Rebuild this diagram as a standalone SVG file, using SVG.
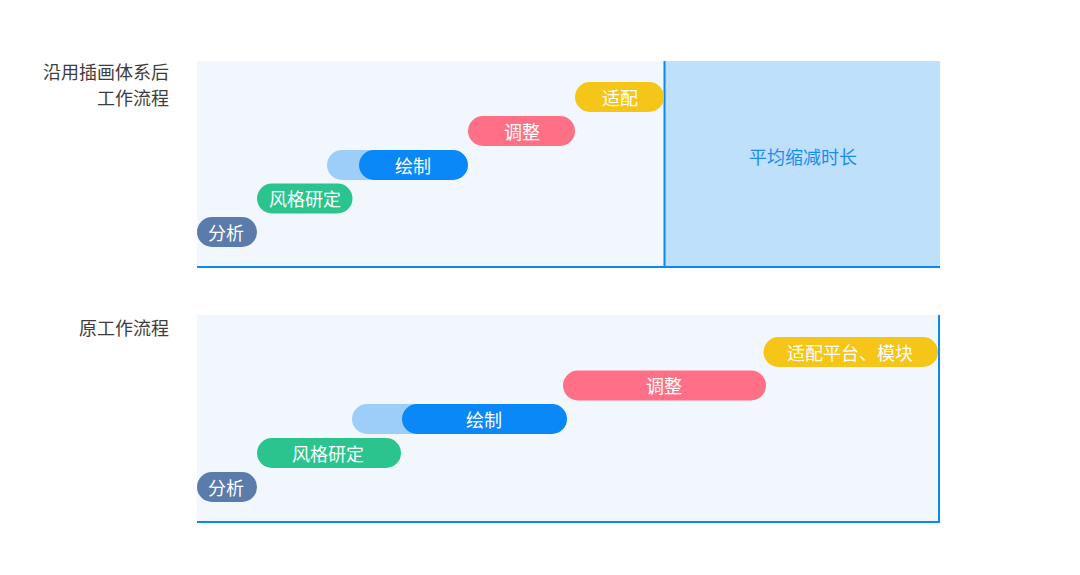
<svg xmlns="http://www.w3.org/2000/svg" width="1080" height="575" viewBox="0 0 1080 575">
<style>
text{font-family:"Noto Sans CJK SC","Noto Sans",sans-serif;font-size:18px;dominant-baseline:central}
.lbl{fill:#3D3D3D;text-anchor:end}
.pt{fill:#fff;text-anchor:middle}
.bg{fill:#F2F7FE}
.ln{stroke:#0A88F8;stroke-width:2;fill:none}
</style>
<rect width="1080" height="575" fill="#fff"/>
<g id="labels">
<text class="lbl" x="169" y="71">沿用插画体系后</text>
<text class="lbl" x="169" y="97">工作流程</text>
<text class="lbl" x="169" y="327">原工作流程</text>
</g>
<g id="panel-top">
<rect class="bg" x="197" y="61" width="468" height="206"/>
<rect x="665" y="61" width="275" height="206" fill="#BEE0FB"/>
<text x="803" y="156" text-anchor="middle" fill="#1A8CF0">平均缩减时长</text>
</g>
<g id="panel-bottom">
<rect class="bg" x="197" y="315" width="742" height="207"/>
</g>
<g id="connectors">
<line class="ln" x1="197" y1="267" x2="940" y2="267"/>
<line class="ln" x1="664.5" y1="61" x2="664.5" y2="267"/>
<line class="ln" x1="197" y1="522" x2="940" y2="522"/>
<line class="ln" x1="939" y1="315" x2="939" y2="523"/>
</g>
<g id="t-fenxi"><rect x="197" y="217" width="60" height="30" rx="15" fill="#5B7BAB"/><text class="pt" x="226" y="231.5">分析</text></g>
<g id="t-fengge"><rect x="257" y="183.5" width="95.5" height="30" rx="15" fill="#2BC48E"/><text class="pt" x="305" y="198">风格研定</text></g>
<g id="t-huizhi"><rect x="327" y="150" width="70" height="30" rx="15" fill="#9DCEFA"/><rect x="359" y="150" width="109" height="30" rx="15" fill="#0A88F8"/><text class="pt" x="413" y="164.5">绘制</text></g>
<g id="t-tiaozheng"><rect x="468" y="116" width="107" height="30" rx="15" fill="#FF6F86"/><text class="pt" x="522" y="130.5">调整</text></g>
<g id="t-shipei"><rect x="575" y="82" width="89" height="30" rx="15" fill="#F5C518"/><text class="pt" x="620" y="96.5">适配</text></g>
<g id="b-fenxi"><rect x="197" y="472" width="60" height="30" rx="15" fill="#5B7BAB"/><text class="pt" x="226" y="486.5">分析</text></g>
<g id="b-fengge"><rect x="257" y="438" width="144" height="30" rx="15" fill="#2BC48E"/><text class="pt" x="328" y="452.5">风格研定</text></g>
<g id="b-huizhi"><rect x="352" y="404" width="80" height="30" rx="15" fill="#9DCEFA"/><rect x="402" y="404" width="165" height="30" rx="15" fill="#0A88F8"/><text class="pt" x="484" y="418.5">绘制</text></g>
<g id="b-tiaozheng"><rect x="563" y="370.5" width="203" height="30" rx="15" fill="#FF6F86"/><text class="pt" x="664" y="385">调整</text></g>
<g id="b-shipei"><rect x="763.5" y="337" width="174.5" height="30" rx="15" fill="#F5C518"/><text class="pt" x="850" y="351.5">适配平台、模块</text></g>
</svg>
